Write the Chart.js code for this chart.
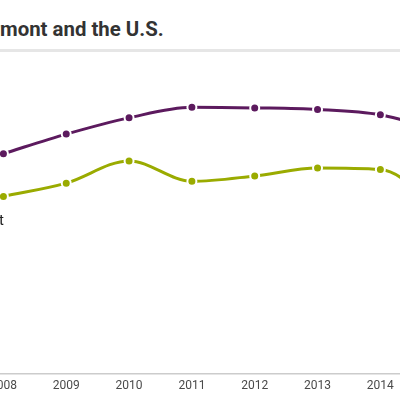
<!DOCTYPE html>
<html>
<head>
<meta charset="utf-8">
<script src="https://cdn.jsdelivr.net/npm/chart.js@4"></script>
<style>
  html, body { margin:0; padding:0; width:400px; height:400px; overflow:hidden; background:#fff; }
  #title { position:absolute; left:0; top:15px; font-family:Roboto, sans-serif; font-weight:700; font-size:20.4px; color:#333; white-space:nowrap; line-height:28px; }
  #title .pre { position:absolute; right:100%; }
  #band { position:absolute; left:0; top:49px; width:400px; height:3px; background:#e6e6e6; }
  #wrap { position:absolute; left:-80px; top:0; width:600px; height:400px; }
</style>
</head>
<body>
<div id="title"><span class="pre">Ver</span>mont and the U.S.</div>
<div id="band"></div>
<div id="wrap"><canvas id="c"></canvas></div>
<script>
const years = ['2008','2009','2010','2011','2012','2013','2014','2015'];
const usValues = [73.2, 79.7, 85.1, 88.6, 88.4, 87.9, 86.1, 80.3];
const vermontValues = [59.0, 63.4, 70.8, 64.0, 65.8, 68.4, 67.9, 54.3];
const seriesNames = ['U.S.', 'Vermont'];

const labelPlugin = {
  id: 'seriesLabel',
  afterDatasetsDraw(chart) {
    const meta = chart.getDatasetMeta(1);
    const p = meta.data[0];
    if (!p) return;
    const ctx = chart.ctx;
    ctx.save();
    ctx.font = '15px Roboto, sans-serif';
    ctx.fillStyle = '#222';
    ctx.textAlign = 'right';
    ctx.textBaseline = 'alphabetic';
    ctx.fillText(seriesNames[1], p.x + 0.5, p.y + 29);
    ctx.restore();
  }
};

new Chart(document.getElementById('c'), {
  type: 'line',
  data: {
    labels: years,
    datasets: [
      {
        label: seriesNames[0],
        data: usValues,
        borderColor: '#5c1a5e',
        backgroundColor: '#5c1a5e',
        pointBackgroundColor: '#5c1a5e',
        pointBorderColor: '#ffffff',
        borderWidth: 3,
        pointRadius: 4.5,
        pointBorderWidth: 2,
        cubicInterpolationMode: 'monotone',
        fill: false
      },
      {
        label: seriesNames[1],
        data: vermontValues,
        borderColor: '#9aab00',
        backgroundColor: '#9aab00',
        pointBackgroundColor: '#9aab00',
        pointBorderColor: '#ffffff',
        borderWidth: 3,
        pointRadius: 4.5,
        pointBorderWidth: 2,
        cubicInterpolationMode: 'monotone',
        fill: false
      }
    ]
  },
  options: {
    responsive: true,
    maintainAspectRatio: false,
    animation: false,
    events: [],
    layout: { padding: { left: 52, right: 45.4, top: 73, bottom: 1.6 } },
    plugins: { legend: { display: false }, tooltip: { enabled: false }, title: { display: false } },
    scales: {
      x: {
        offset: true,
        grid: { display: false, drawTicks: false },
        border: { display: true, color: '#cccccc', width: 1.5 },
        ticks: { color: '#4a4a4a', font: { family: 'Roboto, sans-serif', size: 12 }, padding: 5, maxRotation: 0, autoSkip: false }
      },
      y: {
        display: false,
        min: 0,
        max: 100
      }
    }
  },
  plugins: [labelPlugin]
});
</script>
</body>
</html>
